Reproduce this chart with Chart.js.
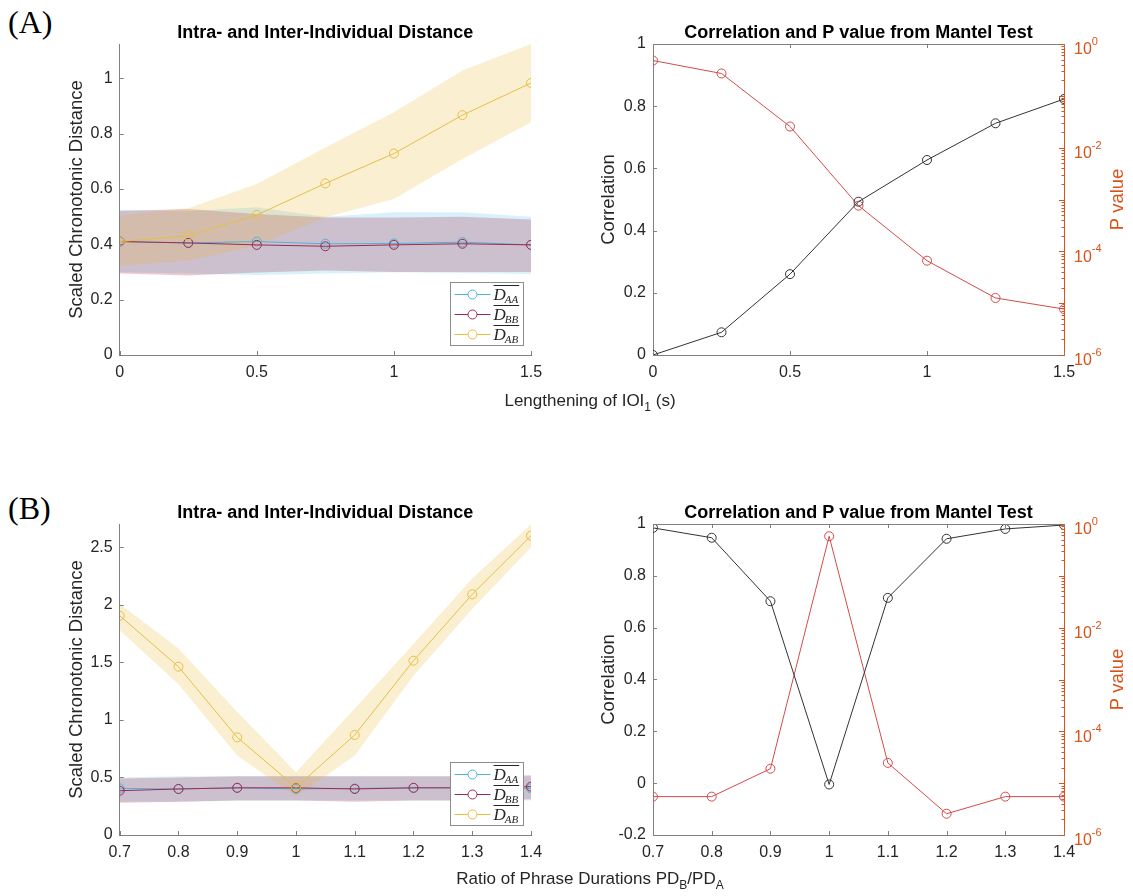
<!DOCTYPE html>
<html>
<head>
<meta charset="utf-8">
<script src="https://cdn.jsdelivr.net/npm/chart.js@4.4.0/dist/chart.umd.min.js"></script>
<style>
  body { margin: 0; background: #fff; }
  #page { position: relative; width: 1133px; height: 896px; overflow: hidden; }
  canvas { position: absolute; }
  .tag { position: absolute; font: 32px 'Liberation Serif', 'Times New Roman', serif; line-height: 32px; color: #000; }
  .xlab { position: absolute; transform: translateX(-50%); font: 17px 'Liberation Sans', Arial, sans-serif; line-height: 17px; color: #262626; white-space: nowrap; }
  .xlab span { font-size: 12px; position: relative; top: 5px; }
</style>
</head>
<body>
<div id="page">
  <div class="tag" style="left:8px;top:6px">(A)</div>
  <div class="tag" style="left:8px;top:492px">(B)</div>
  <canvas id="distA" width="566" height="420" style="left:0;top:0"></canvas>
  <canvas id="mantelA" width="567" height="420" style="left:566px;top:0"></canvas>
  <canvas id="distB" width="566" height="416" style="left:0;top:480px"></canvas>
  <canvas id="mantelB" width="567" height="416" style="left:566px;top:480px"></canvas>
  <div class="xlab" style="left:590px;top:392px">Lengthening of IOI<span>1</span> (s)</div>
  <div class="xlab" style="left:590px;top:870px">Ratio of Phrase Durations PD<span>B</span>/PD<span>A</span></div>
</div>
<script>
// (A) lengthening of IOI1
const lengthening = [0, 0.25, 0.5, 0.75, 1, 1.25, 1.5];
const dAA_A   = [0.410, 0.405, 0.410, 0.402, 0.403, 0.408, 0.398];
const dAA_Ahi = [0.525, 0.520, 0.534, 0.500, 0.516, 0.516, 0.500];
const dAA_Alo = [0.299, 0.295, 0.289, 0.295, 0.299, 0.296, 0.293];
const dBB_A   = [0.410, 0.405, 0.398, 0.393, 0.398, 0.402, 0.398];
const dBB_Ahi = [0.520, 0.528, 0.510, 0.497, 0.497, 0.500, 0.490];
const dBB_Alo = [0.295, 0.287, 0.298, 0.305, 0.300, 0.300, 0.300];
const dAB_A   = [0.410, 0.431, 0.506, 0.620, 0.728, 0.867, 0.983];
const dAB_Ahi = [0.505, 0.530, 0.618, 0.750, 0.877, 1.028, 1.124];
const dAB_Alo = [0.323, 0.341, 0.395, 0.497, 0.564, 0.708, 0.841];
const corrA = [0.0, 0.073, 0.26, 0.493, 0.627, 0.745, 0.823];
const pvalA = [0.48, 0.27, 0.0256, 7.6e-4, 6.6e-5, 1.26e-5, 7.7e-6];

// (B) ratio of phrase durations
const ratio = [0.7, 0.8, 0.9, 1.0, 1.1, 1.2, 1.3, 1.4];
const dAA_B   = [0.405, 0.400, 0.410, 0.400, 0.405, 0.410, 0.410, 0.405];
const dAA_Bhi = [0.500, 0.510, 0.510, 0.510, 0.510, 0.510, 0.510, 0.510];
const dAA_Blo = [0.290, 0.290, 0.300, 0.300, 0.300, 0.300, 0.300, 0.300];
const dBB_B   = [0.385, 0.400, 0.410, 0.410, 0.400, 0.410, 0.410, 0.420];
const dBB_Bhi = [0.490, 0.500, 0.510, 0.510, 0.510, 0.510, 0.510, 0.520];
const dBB_Blo = [0.280, 0.290, 0.300, 0.300, 0.290, 0.300, 0.300, 0.310];
const dAB_B   = [1.906, 1.463, 0.849, 0.414, 0.869, 1.515, 2.092, 2.601];
const dAB_Bhi = [2.010, 1.620, 1.070, 0.545, 1.100, 1.660, 2.230, 2.700];
const dAB_Blo = [1.780, 1.310, 0.690, 0.330, 0.690, 1.385, 1.965, 2.500];
const corrB = [0.985, 0.947, 0.702, -0.005, 0.715, 0.943, 0.981, 0.996];
const pvalB = [5.5e-6, 5.5e-6, 1.9e-5, 0.58, 2.46e-5, 2.57e-6, 5.5e-6, 5.5e-6];

// tick values
const xTicksA = [0, 0.5, 1, 1.5];
const yTicksA = [0, 0.2, 0.4, 0.6, 0.8, 1];
const xTicksB = [0.7, 0.8, 0.9, 1, 1.1, 1.2, 1.3, 1.4];
const yTicksB = [0, 0.5, 1, 1.5, 2, 2.5];
const corrTicksA = [0, 0.2, 0.4, 0.6, 0.8, 1];
const corrTicksB = [-0.2, 0, 0.2, 0.4, 0.6, 0.8, 1];
const pExpLabels = [-6, -4, -2, 0];

const FONT = "'Liberation Sans', Arial, sans-serif";
const AXIS = '#808080', TXT = '#262626', ORANGE = '#D95319', RED = '#d24b4b', BLACK = '#333333';
const C_AA = '#4fb3dc', C_BB = '#a2294f', C_AB = '#e6bf45';
const BAND_AA = 'rgba(77,190,238,0.22)', BAND_BB = 'rgba(162,20,47,0.22)', BAND_AB = 'rgba(237,177,32,0.2)';

Chart.defaults.font.family = FONT;

const pts = (xs, ys) => xs.map((x, i) => ({ x: x, y: ys[i] }));
const fmt = v => String(parseFloat(Number(v).toFixed(2)));

function drawLegend(ctx, a, items) {
  const w = 73, h = 63;
  const x0 = Math.round(a.right - 8 - w) + 0.5, y0 = Math.round(a.bottom - 10 - h) + 0.5;
  ctx.fillStyle = '#fff';
  ctx.fillRect(x0, y0, w, h);
  ctx.strokeStyle = '#8c8c8c';
  ctx.lineWidth = 1;
  ctx.strokeRect(x0, y0, w, h);
  items.forEach((it, i) => {
    const cy = y0 + 12 + i * 20;
    ctx.strokeStyle = it.color;
    ctx.beginPath();
    ctx.moveTo(x0 + 4, cy); ctx.lineTo(x0 + 40, cy);
    ctx.stroke();
    ctx.fillStyle = '#fff';
    ctx.beginPath();
    ctx.arc(x0 + 22, cy, 4.5, 0, Math.PI * 2);
    ctx.fill(); ctx.stroke();
    // overlined D with subscript
    const tx = x0 + 43, base = cy + 5.5;
    ctx.fillStyle = TXT;
    ctx.textAlign = 'left';
    ctx.textBaseline = 'alphabetic';
    ctx.font = "italic 17px 'Liberation Serif', serif";
    ctx.fillText('D', tx, base);
    const dw = ctx.measureText('D').width;
    ctx.font = "italic 11px 'Liberation Serif', serif";
    ctx.fillText(it.sub, tx + dw - 1, base + 3);
    const sw = ctx.measureText(it.sub).width;
    ctx.strokeStyle = TXT;
    ctx.beginPath();
    ctx.moveTo(tx, Math.round(base - 15) + 0.5);
    ctx.lineTo(tx + dw - 1 + sw + 1, Math.round(base - 15) + 0.5);
    ctx.stroke();
  });
}

function drawLogAxis(ctx, a, s) {
  ctx.strokeStyle = ORANGE;
  ctx.fillStyle = ORANGE;
  ctx.lineWidth = 1;
  ctx.beginPath();
  for (let k = -6; k <= 0; k++) {
    const py = Math.round(s.getPixelForValue(Math.pow(10, k))) + 0.5;
    ctx.moveTo(a.right, py); ctx.lineTo(a.right - 5, py);
    if (k < 0) {
      for (let m = 2; m <= 9; m++) {
        const q = Math.round(s.getPixelForValue(m * Math.pow(10, k))) + 0.5;
        ctx.moveTo(a.right, q); ctx.lineTo(a.right - 2.5, q);
      }
    }
  }
  ctx.stroke();
  ctx.textAlign = 'left';
  ctx.textBaseline = 'middle';
  pExpLabels.forEach(k => {
    const py = s.getPixelForValue(Math.pow(10, k));
    const x0 = a.right + 10;
    ctx.font = '16px ' + FONT;
    ctx.fillText('10', x0, py + 6);
    const w = ctx.measureText('10').width;
    ctx.font = '11px ' + FONT;
    ctx.fillText(String(k), x0 + w, py - 2);
  });
  ctx.save();
  ctx.translate(a.right + 54, (a.top + a.bottom) / 2);
  ctx.rotate(-Math.PI / 2);
  ctx.font = '18.5px ' + FONT;
  ctx.textAlign = 'center';
  ctx.fillText('P value', 0, 0);
  ctx.restore();
}

// inward ticks, top frame line, log axis labels and the inset legend
const frame = {
  id: 'frame',
  afterDraw(chart, args, o) {
    const { ctx, chartArea: a, scales } = chart;
    ctx.save();
    ctx.lineWidth = 1;
    ctx.strokeStyle = AXIS;
    ctx.beginPath();
    scales.x.ticks.forEach(t => {
      const px = Math.round(scales.x.getPixelForValue(t.value)) + 0.5;
      ctx.moveTo(px, a.bottom); ctx.lineTo(px, a.bottom - 4);
      if (o.box) { ctx.moveTo(px, a.top); ctx.lineTo(px, a.top + 4); }
    });
    scales.y.ticks.forEach(t => {
      const py = Math.round(scales.y.getPixelForValue(t.value)) + 0.5;
      ctx.moveTo(a.left, py); ctx.lineTo(a.left + 4, py);
    });
    if (o.box) {
      const ty = Math.round(a.top) + 0.5;
      ctx.moveTo(a.left, ty); ctx.lineTo(a.right, ty);
    }
    ctx.stroke();
    if (scales.p) drawLogAxis(ctx, a, scales.p);
    if (o.legend) drawLegend(ctx, a, o.legend);
    ctx.restore();
  }
};

function xScale(min, max, ticks, h) {
  return {
    type: 'linear', min: min, max: max,
    afterBuildTicks: s => { s.ticks = ticks.map(v => ({ value: v })); },
    afterFit: s => { s.height = h; },
    grid: { display: false, drawTicks: false },
    border: { color: AXIS, width: 1 },
    ticks: { color: TXT, font: { size: 16 }, padding: 8, maxRotation: 0, autoSkip: false, callback: v => fmt(v) }
  };
}

function yScale(min, max, ticks, w, title, titlePad) {
  return {
    type: 'linear', min: min, max: max,
    afterBuildTicks: s => { s.ticks = ticks.map(v => ({ value: v })); },
    afterFit: s => { s.width = w; },
    grid: { display: false, drawTicks: false },
    border: { color: AXIS, width: 1 },
    ticks: { color: TXT, font: { size: 16 }, padding: 7, autoSkip: false, callback: v => fmt(v) },
    title: { display: true, text: title, color: TXT, font: { size: 18.5 }, padding: { top: titlePad, bottom: 0 } }
  };
}

function titleOpts(text) {
  return {
    display: true, text: text, fullSize: false, color: '#000',
    font: { size: 18, weight: 'bold' }, padding: { top: 22, bottom: 0.4 }
  };
}

function distanceChart(id, xs, series, xr, yr, xh) {
  const datasets = [];
  series.forEach((s, k) => {
    datasets.push({ data: pts(xs, s.hi), fill: '+1', backgroundColor: s.band, borderWidth: 0, pointRadius: 0, order: 10 - k });
    datasets.push({ data: pts(xs, s.lo), fill: false, borderWidth: 0, pointRadius: 0, order: 10 - k });
  });
  series.forEach((s, k) => {
    datasets.push({
      data: pts(xs, s.mean), fill: false, borderColor: s.color, borderWidth: 1,
      pointRadius: 4.5, pointBorderColor: s.color, pointBorderWidth: 1,
      pointBackgroundColor: 'rgba(0,0,0,0)', order: 3 - k
    });
  });
  return new Chart(document.getElementById(id), {
    type: 'line',
    data: { datasets: datasets },
    plugins: [frame],
    options: {
      responsive: false, animation: false, events: [],
      layout: { padding: { left: 0, top: 0, right: 35, bottom: 0 }, autoPadding: false },
      scales: {
        x: xScale(xr[0], xr[1], xr[2], xh),
        y: yScale(yr[0], yr[1], yr[2], 119.7, 'Scaled Chronotonic Distance', 65.9)
      },
      plugins: {
        legend: { display: false }, tooltip: { enabled: false },
        title: titleOpts('Intra- and Inter-Individual Distance'),
        frame: {
          box: false,
          legend: series.map(s => ({ sub: s.sub, color: s.color }))
        }
      }
    }
  });
}

function mantelChart(id, xs, corr, pval, xr, yr, xh) {
  return new Chart(document.getElementById(id), {
    type: 'line',
    data: {
      datasets: [
        { data: pts(xs, corr), yAxisID: 'y', fill: false, borderColor: BLACK, borderWidth: 1,
          pointRadius: 4.5, pointBorderColor: BLACK, pointBorderWidth: 1, pointBackgroundColor: 'rgba(0,0,0,0)', order: 1 },
        { data: pts(xs, pval), yAxisID: 'p', fill: false, borderColor: RED, borderWidth: 1,
          pointRadius: 4.5, pointBorderColor: RED, pointBorderWidth: 1, pointBackgroundColor: 'rgba(0,0,0,0)', order: 2 }
      ]
    },
    plugins: [frame],
    options: {
      responsive: false, animation: false, events: [],
      layout: { padding: 0, autoPadding: false },
      scales: {
        x: xScale(xr[0], xr[1], xr[2], xh),
        y: yScale(yr[0], yr[1], yr[2], 87, 'Correlation', 31.9),
        p: {
          type: 'logarithmic', position: 'right', min: 1e-6, max: 1,
          afterFit: s => { s.width = 69; },
          grid: { display: false, drawTicks: false },
          border: { color: ORANGE, width: 1 },
          ticks: { display: false }
        }
      },
      plugins: {
        legend: { display: false }, tooltip: { enabled: false },
        title: titleOpts('Correlation and P value from Mantel Test'),
        frame: { box: true }
      }
    }
  });
}

distanceChart('distA', lengthening, [
  { mean: dAA_A, hi: dAA_Ahi, lo: dAA_Alo, color: C_AA, band: BAND_AA, sub: 'AA' },
  { mean: dBB_A, hi: dBB_Ahi, lo: dBB_Alo, color: C_BB, band: BAND_BB, sub: 'BB' },
  { mean: dAB_A, hi: dAB_Ahi, lo: dAB_Alo, color: C_AB, band: BAND_AB, sub: 'AB' }
], [0, 1.5, xTicksA], [0, 1.124, yTicksA], 65);

mantelChart('mantelA', lengthening, corrA, pvalA, [0, 1.5, xTicksA], [0, 1, corrTicksA], 65);

distanceChart('distB', ratio, [
  { mean: dAA_B, hi: dAA_Bhi, lo: dAA_Blo, color: C_AA, band: BAND_AA, sub: 'AA' },
  { mean: dBB_B, hi: dBB_Bhi, lo: dBB_Blo, color: C_BB, band: BAND_BB, sub: 'BB' },
  { mean: dAB_B, hi: dAB_Bhi, lo: dAB_Blo, color: C_AB, band: BAND_AB, sub: 'AB' }
], [0.7, 1.4, xTicksB], [0, 2.703, yTicksB], 61);

mantelChart('mantelB', ratio, corrB, pvalB, [0.7, 1.4, xTicksB], [-0.2, 1, corrTicksB], 61);
</script>
</body>
</html>
